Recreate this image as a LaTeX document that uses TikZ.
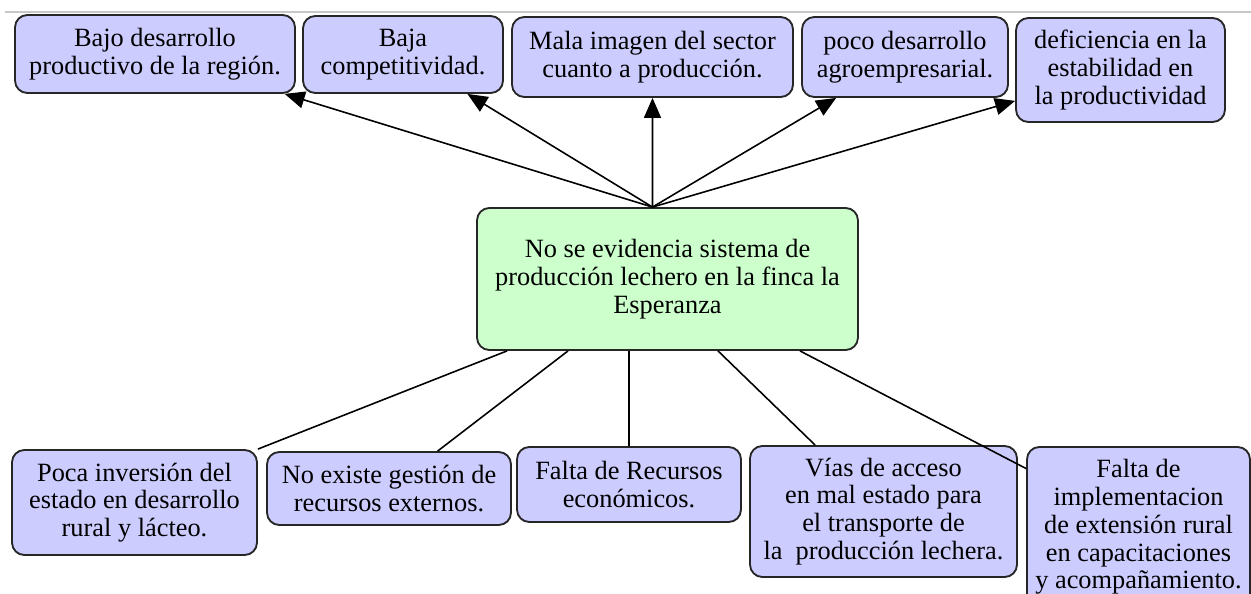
\documentclass[tikz,border=0pt]{standalone}
\usepackage{fontspec}
\setmainfont{Liberation Serif}
\usetikzlibrary{arrows.meta}
\definecolor{effblue}{RGB}{204,204,255}
\definecolor{probgreen}{RGB}{204,255,204}

\begin{document}
\begin{tikzpicture}[
  x=0.02cm, y=-0.02cm,
  box/.style={draw=black!85, line width=1.05pt, rounded corners=7pt, inner sep=0pt, align=center,
    font=\fontsize{15}{15.8}\selectfont},
  effect/.style={box, fill=effblue},
  cause/.style={box, fill=effblue},
  problem/.style={box, fill=probgreen},
  link/.style={line width=0.9pt, black},
  >={Triangle[length=0.4cm, width=0.34cm]}
]
  \useasboundingbox (0,0) rectangle (1251,594);
  \draw[black!22, line width=0.8pt] (5,12) -- (1251,12);

  % central problem
  \node[problem, minimum width=7.62cm, minimum height=2.84cm] (prob) at (667.5,279)
    {No se evidencia sistema de\\producción lechero en la finca la\\Esperanza};

  % effects (top row)
  \node[effect, minimum width=5.6cm, minimum height=1.56cm] (e1) at (155,54)
    {Bajo desarrollo\\productivo de la región.};
  \node[effect, minimum width=4.0cm, minimum height=1.54cm] (e2) at (403,54.5)
    {Baja\\competitividad.};
  \node[effect, minimum width=5.62cm, minimum height=1.6cm] (e3) at (652.5,57)
    {Mala imagen del sector\\cuanto a producción.};
  \node[effect, minimum width=4.12cm, minimum height=1.6cm] (e4) at (905,57)
    {poco desarrollo\\agroempresarial.};
  \node[effect, minimum width=4.18cm, minimum height=2.08cm] (e5) at (1120.5,70)
    {deficiencia en la\\estabilidad en\\la productividad};

  % causes (bottom row)
  \node[cause, minimum width=4.9cm, minimum height=2.1cm] (c1) at (134.5,502.5)
    {Poca inversión del\\estado en desarrollo\\rural y lácteo.};
  \node[cause, minimum width=4.88cm, minimum height=1.46cm] (c2) at (389,488.5)
    {No existe gestión de\\recursos externos.};
  \node[cause, minimum width=4.48cm, minimum height=1.5cm] (c3) at (629,484.5)
    {Falta de Recursos\\económicos.};
  \node[cause, minimum width=5.34cm, minimum height=2.62cm] (c4) at (883.5,511.5)
    {Vías de acceso\\en mal estado para\\el transporte de\\la\ \ producción lechera.};
  \node[cause, minimum width=4.46cm, minimum height=3.2cm] (c5) at (1138.5,527)
    {Falta de\\implementacion\\de extensión rural\\en capacitaciones\\y acompañamiento.};

  % connector ends on the problem box
  \coordinate (ptop) at ([xshift=-0.3cm]prob.north);
  \coordinate (pb1) at ([xshift=-3.21cm]prob.south);
  \coordinate (pb2) at ([xshift=-1.99cm]prob.south);
  \coordinate (pb3) at ([xshift=-0.77cm]prob.south);
  \coordinate (pb4) at ([xshift=1.01cm]prob.south);
  \coordinate (pb5) at ([xshift=2.65cm]prob.south);

  \draw[link, ->] (ptop) -- (e1);
  \draw[link, ->] (ptop) -- (e2);
  \draw[link, ->] (ptop) -- (e3);
  \draw[link, ->] (ptop) -- (e4);
  \draw[link, ->] (ptop) -- (e5);

  \draw[link] (pb1) -- (c1.north east);
  \draw[link] (pb2) -- (c2);
  \draw[link] (pb3) -- (c3);
  \draw[link] (pb4) -- (c4);
  \draw[link] (pb5) -- (c5);
\end{tikzpicture}
\end{document}
